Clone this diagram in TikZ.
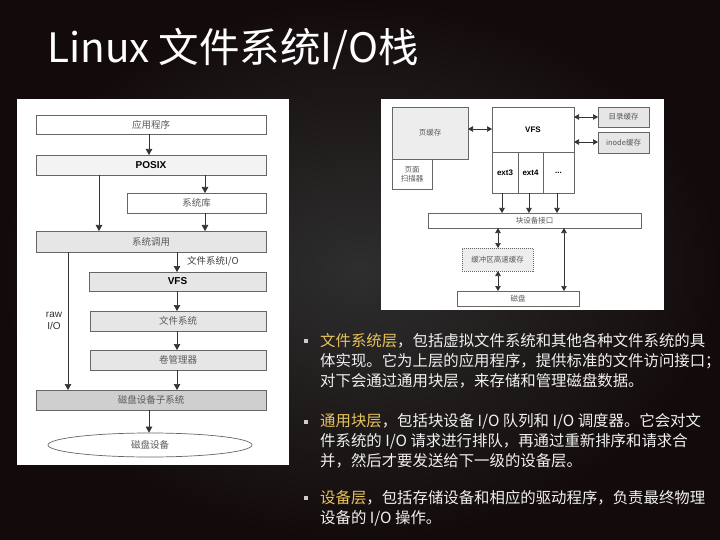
\documentclass[tikz,border=0pt]{standalone}
\usepackage{fontspec}
\setmainfont{Noto Sans CJK SC}
\newfontfamily\lsans{Liberation Sans}
\usetikzlibrary{arrows.meta,shapes.geometric}
\definecolor{gold}{HTML}{E8C35A}
\definecolor{bgin}{HTML}{2E2E2E}
\definecolor{bgout}{HTML}{130B0B}
\definecolor{lightfill}{HTML}{F3F3F3}
\definecolor{midfill}{HTML}{E6E6E6}
\definecolor{darkfill}{HTML}{CFCFCF}
\definecolor{boxtext}{HTML}{5A5A5A}
\begin{document}
\begin{tikzpicture}[x=1pt,y=-1pt,
  panel/.style={fill=white, draw=none, anchor=north west, inner sep=0pt, outer sep=0pt},
  lbox/.style={draw=black!60, line width=0.7pt, anchor=north west, inner sep=0pt, outer sep=0pt,
    font=\fontsize{9.5}{11}\selectfont, text=boxtext},
  rbox/.style={draw=black!60, line width=0.6pt, anchor=north west, inner sep=0pt, outer sep=0pt,
    font=\fontsize{7.5}{9}\selectfont, text=boxtext},
  boldl/.style={font=\lsans\fontsize{10}{12}\selectfont\bfseries, text=black},
  boldr/.style={font=\lsans\fontsize{8}{10}\selectfont\bfseries, text=black},
  arr/.style={draw=black!80, line width=0.7pt, -{Triangle[length=6pt,width=6.5pt]}},
  darr/.style={draw=black!80, line width=0.6pt, {Triangle[length=5pt,width=5.5pt]}-{Triangle[length=5pt,width=5.5pt]}},
  bl/.style={anchor=base west, inner sep=0pt, text=white!94!black, font=\fontsize{15.4}{20}\selectfont},
  bsq/.style={fill=white!80!black, minimum size=4pt, inner sep=0pt}
]
\useasboundingbox (0,0) rectangle (720,540);
\shade[inner color=bgin, outer color=bgout] (0,0) rectangle (720,540);

% title
\node[anchor=base west, inner sep=0pt, text=white, font=\fontsize{40.5}{44}\selectfont] (title) at (47,63) {Linux 文件系统I/O栈};

% panels
\node[panel, minimum width=272pt, minimum height=366pt] (lpanel) at (17,99) {};
\node[panel, minimum width=283pt, minimum height=211pt] (rpanel) at (381,99) {};

% ---------- left diagram ----------
\node[lbox, fill=white, minimum width=230pt, minimum height=19pt] (app) at (36,115) {应用程序};
\node[lbox, fill=lightfill, minimum width=230pt, minimum height=20pt, boldl] (posix) at (36,155) {POSIX};
\node[lbox, fill=white, minimum width=139pt, minimum height=20pt] (lib) at (127,193) {系统库};
\node[lbox, fill=midfill, minimum width=230pt, minimum height=21pt] (sys) at (36,231) {系统调用};
\node[lbox, fill=midfill, minimum width=177pt, minimum height=19pt, boldl] (vfs) at (89,272) {VFS};
\node[lbox, fill=midfill, minimum width=176pt, minimum height=20pt] (fs) at (90,311) {文件系统};
\node[lbox, fill=midfill, minimum width=176pt, minimum height=20pt] (vol) at (90,350) {卷管理器};
\node[lbox, fill=darkfill, minimum width=230pt, minimum height=20pt] (dsub) at (36,390) {磁盘设备子系统};
\node[ellipse, draw=black!60, line width=0.7pt, fill=white, minimum width=204pt, minimum height=24pt,
  inner sep=0pt, font=\fontsize{9.5}{11}\selectfont, text=boxtext] (disk) at (150,445) {磁盘设备};

\coordinate (xa) at (149,0);
\coordinate (xb) at (99,0);
\coordinate (xc) at (205,0);
\coordinate (xd) at (177,0);
\coordinate (xr) at (68,0);

\draw[arr] (app.south -| xa) -- (posix.north -| xa);
\draw[arr] (posix.south -| xb) -- (sys.north -| xb);
\draw[arr] (posix.south -| xc) -- (lib.north -| xc);
\draw[arr] (lib.south -| xc) -- (sys.north -| xc);
\draw[arr] (sys.south -| xd) -- (vfs.north -| xd);
\draw[arr] (vfs.south -| xd) -- (fs.north -| xd);
\draw[arr] (fs.south -| xd) -- (vol.north -| xd);
\draw[arr] (vol.south -| xd) -- (dsub.north -| xd);
\draw[arr] (sys.south -| xr) -- (dsub.north -| xr);
\draw[arr] (dsub.south -| xa) -- (disk.north -| xa);

\node[anchor=west, inner sep=0pt, font=\fontsize{9.5}{11}\selectfont, text=black!75] (fsio) at (187,261) {文件系统I/O};
\node[align=center, inner sep=0pt, font=\lsans\fontsize{10}{12}\selectfont, text=black!80] (raw) at (54,321) {raw\\I/O};

% ---------- right diagram ----------
\node[rbox, fill=midfill!70!white, minimum width=76pt, minimum height=52pt] (pc) at (392,107) {页缓存};
\node[rbox, fill=white, minimum width=40pt, minimum height=30pt, align=center] (scan) at (392,159) {页面\\扫描器};
\node[rbox, fill=white, minimum width=82pt, minimum height=45pt, boldr] (rvfs) at (492,107) {VFS};
\node[rbox, fill=white, minimum width=26pt, minimum height=41pt, boldr] (ext3) at (492,152) {ext3};
\node[rbox, fill=white, minimum width=25pt, minimum height=41pt, boldr] (ext4) at (518,152) {ext4};
\node[rbox, fill=white, minimum width=31pt, minimum height=41pt, boldr] (etc) at (543,152) {...};
\node[rbox, fill=midfill, minimum width=51pt, minimum height=20pt] (dc) at (598,107) {目录缓存};
\node[rbox, fill=midfill, minimum width=51pt, minimum height=21pt] (ic) at (598,132) {inode缓存};
\node[rbox, fill=white, minimum width=213pt, minimum height=15pt] (blk) at (428,213) {块设备接口};
\node[rbox, fill=midfill!70!white, dash pattern=on 1pt off 1pt, minimum width=71pt, minimum height=23pt] (buf) at (462,248) {缓冲区高速缓存};
\node[rbox, fill=white, minimum width=122pt, minimum height=15pt] (rdisk) at (457,291) {磁盘};

\coordinate (ya) at (0,129);
\coordinate (yb) at (0,117);
\coordinate (yc) at (0,142);
\coordinate (x1) at (502,0);
\coordinate (x2) at (529,0);
\coordinate (x3) at (557,0);
\coordinate (x4) at (498,0);
\coordinate (x5) at (564,0);

\draw[darr] (pc.east |- ya) -- (rvfs.west |- ya);
\draw[darr] (rvfs.east |- yb) -- (dc.west |- yb);
\draw[darr] (rvfs.east |- yc) -- (ic.west |- yc);
\draw[arr, line width=0.6pt, -{Triangle[length=5pt,width=5.5pt]}] (ext3.south -| x1) -- (blk.north -| x1);
\draw[arr, line width=0.6pt, -{Triangle[length=5pt,width=5.5pt]}] (ext4.south -| x2) -- (blk.north -| x2);
\draw[arr, line width=0.6pt, -{Triangle[length=5pt,width=5.5pt]}] (etc.south -| x3) -- (blk.north -| x3);
\draw[darr] (blk.south -| x4) -- (buf.north -| x4);
\draw[darr] (buf.south -| x4) -- (rdisk.north -| x4);
\draw[darr] (blk.south -| x5) -- (rdisk.north -| x5);

% ---------- bullets ----------
\node[bsq] (s1) at (306,341) {};
\node[bl] (b1a) at (320,346) {\textcolor{gold}{文件系统层}，包括虚拟文件系统和其他各种文件系统的具};
\node[bl] (b1b) at (320,366) {体实现。它为上层的应用程序，提供标准的文件访问接口；};
\node[bl] (b1c) at (320,386) {对下会通过通用块层，来存储和管理磁盘数据。};

\node[bsq] (s2) at (306,422) {};
\node[bl] (b2a) at (320,426) {\textcolor{gold}{通用块层}，包括块设备 I/O 队列和 I/O 调度器。它会对文};
\node[bl] (b2b) at (320,446) {件系统的 I/O 请求进行排队，再通过重新排序和请求合};
\node[bl] (b2c) at (320,466) {并，然后才要发送给下一级的设备层。};

\node[bsq] (s3) at (306,498) {};
\node[bl] (b3a) at (320,503) {\textcolor{gold}{设备层}，包括存储设备和相应的驱动程序，负责最终物理};
\node[bl] (b3b) at (320,523) {设备的 I/O 操作。};
\end{tikzpicture}
\end{document}
